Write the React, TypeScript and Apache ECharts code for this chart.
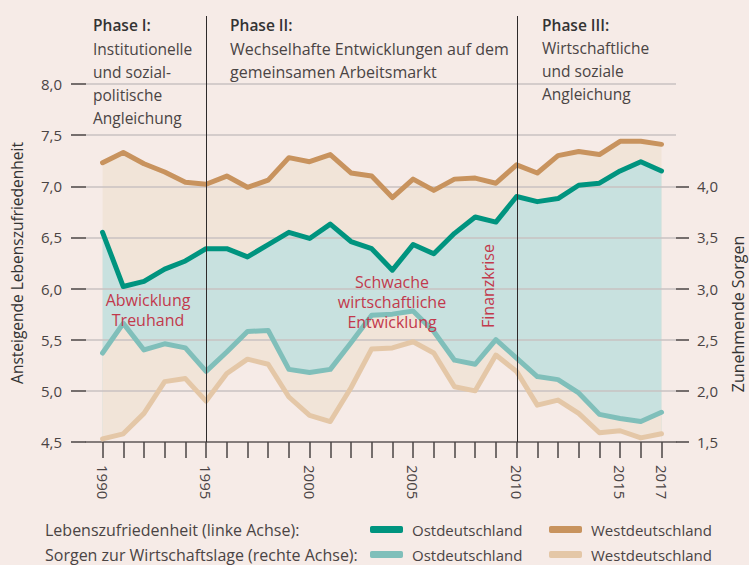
import React, { useEffect, useRef } from "react";
import * as echarts from "echarts";

const years = [1990, 1991, 1992, 1993, 1994, 1995, 1996, 1997, 1998, 1999, 2000, 2001, 2002, 2003, 2004, 2005, 2006, 2007, 2008, 2009, 2010, 2011, 2012, 2013, 2014, 2015, 2016, 2017];
const lzOst = [6.55, 6.02, 6.07, 6.19, 6.27, 6.39, 6.39, 6.31, 6.43, 6.55, 6.49, 6.63, 6.46, 6.39, 6.18, 6.43, 6.34, 6.54, 6.70, 6.65, 6.90, 6.85, 6.88, 7.01, 7.03, 7.15, 7.24, 7.15];
const lzWest = [7.23, 7.33, 7.22, 7.14, 7.04, 7.02, 7.10, 6.99, 7.06, 7.28, 7.24, 7.31, 7.13, 7.10, 6.89, 7.07, 6.96, 7.07, 7.08, 7.03, 7.21, 7.13, 7.30, 7.34, 7.31, 7.44, 7.44, 7.41];
const sorgenOst = [2.37, 2.66, 2.40, 2.46, 2.42, 2.19, 2.38, 2.58, 2.59, 2.21, 2.18, 2.21, 2.47, 2.74, 2.75, 2.78, 2.58, 2.30, 2.26, 2.50, 2.32, 2.14, 2.11, 1.98, 1.77, 1.73, 1.70, 1.79];
const sorgenWest = [1.53, 1.58, 1.78, 2.09, 2.12, 1.90, 2.17, 2.31, 2.26, 1.94, 1.76, 1.70, 2.03, 2.41, 2.42, 2.48, 2.37, 2.04, 2.00, 2.35, 2.19, 1.86, 1.91, 1.78, 1.59, 1.61, 1.54, 1.58];
const leftTicks = [4.5, 5.0, 5.5, 6.0, 6.5, 7.0, 7.5, 8.0];
const rightTicks = [1.5, 2.0, 2.5, 3.0, 3.5, 4.0];
const yearLabels = [1990, 1995, 2000, 2005, 2010, 2015, 2017];
const phaseYears = [1995, 2010];

const FONT = "'Open Sans', sans-serif";
const BG = "#f6ebe7";
const BEIGE = "#f1e4d8";
const TEALFILL = "#c8e1df";
const C_OST = "#00947f";
const C_WEST = "#c8935e";
const C_SOST = "#80bfba";
const C_SWEST = "#e4c7a7";
const RED = "#c2394c";
const TXT = "#4a4444";
const FS = 15;

const pairs = (vals: number[]) => years.map((y, i) => [y, vals[i]]);
const fmt = (v: number) => v.toFixed(1).replace(".", ",");

export default function App() {
  const ref = useRef<HTMLDivElement>(null);
  useEffect(() => {
    if (!ref.current) return;
    const chart = echarts.init(ref.current, undefined, { renderer: "svg" });
    const area = (name: string, vals: number[], color: string, yi: number, z: number) => ({
      name,
      type: "line",
      yAxisIndex: yi,
      data: pairs(vals),
      symbol: "none",
      silent: true,
      z,
      lineStyle: { width: 0 },
      areaStyle: { color, opacity: 1, origin: "start" },
    });
    const line = (name: string, vals: number[], color: string, yi: number) => ({
      name,
      type: "line",
      yAxisIndex: yi,
      data: pairs(vals),
      symbol: "none",
      z: 8,
      color,
      itemStyle: { color },
      lineStyle: { width: 5, color, cap: "round", join: "round" },
    });
    const legendItem = (name: string, label: string, left: number, top: number) => ({
      data: [name],
      left,
      top,
      icon: "roundRect",
      itemWidth: 33,
      itemHeight: 7,
      selectedMode: false,
      formatter: () => label,
      textStyle: { fontFamily: FONT, fontSize: FS, color: TXT, padding: [0, 0, 0, 4] },
    });
    chart.setOption({
      animation: false,
      backgroundColor: BG,
      grid: { left: 86, right: 73, top: 84, bottom: 123 },
      xAxis: {
        type: "value",
        min: 1989.2,
        max: 2017.7,
        z: 6,
        axisLine: { show: true, onZero: false, lineStyle: { color: "#6a6262", width: 1.5 } },
        axisTick: { show: true, customValues: years, length: 16, lineStyle: { color: "#4a4444", width: 1.5 } },
        axisLabel: {
          customValues: yearLabels,
          rotate: -90,
          margin: 23,
          fontFamily: FONT,
          fontSize: FS,
          color: TXT,
          formatter: (v: number) => String(v),
        },
        splitLine: { show: false },
      },
      yAxis: [
        {
          type: "value",
          min: 4.5,
          max: 8.0,
          interval: 0.5,
          z: 6,
          name: "Ansteigende Lebenszufriedenheit",
          nameLocation: "middle",
          nameGap: 61,
          nameRotate: 90,
          nameTextStyle: { fontFamily: FONT, fontSize: 15.5, color: "#333" },
          axisLine: { show: false },
          axisTick: { show: true, customValues: leftTicks, length: 15, lineStyle: { color: "#4a4444", width: 1.5 } },
          axisLabel: { customValues: leftTicks, margin: 24, fontFamily: FONT, fontSize: FS, color: TXT, formatter: fmt },
          splitLine: { show: true, lineStyle: { color: "#c9c2c2", width: 1.5 } },
        },
        {
          type: "value",
          min: 1.5,
          max: 5.0,
          interval: 0.5,
          z: 6,
          position: "right",
          axisLine: { show: false },
          axisTick: { show: true, customValues: rightTicks, length: 13, lineStyle: { color: "#4a4444", width: 1.5 } },
          axisLabel: { customValues: rightTicks, margin: 21, fontFamily: FONT, fontSize: FS, color: TXT, formatter: fmt },
          splitLine: { show: false },
        },
      ],
      legend: [
        legendItem("LZ Ost", "Ostdeutschland", 365, 517),
        legendItem("LZ West", "Westdeutschland", 544, 517),
        legendItem("Sorgen Ost", "Ostdeutschland", 365, 542),
        legendItem("Sorgen West", "Westdeutschland", 544, 542),
      ],
      series: [
        area("aLZWest", lzWest, BEIGE, 0, 1),
        area("aLZOst", lzOst, TEALFILL, 0, 2),
        area("aSOst", sorgenOst, BEIGE, 1, 3),
        area("aSWest", sorgenWest, BG, 1, 4),
        line("LZ West", lzWest, C_WEST, 0),
        line("LZ Ost", lzOst, C_OST, 0),
        line("Sorgen Ost", sorgenOst, C_SOST, 1),
        line("Sorgen West", sorgenWest, C_SWEST, 1),
      ],
    });

    const yBottom = chart.convertToPixel({ yAxisIndex: 0 }, 4.5) as number;
    const phaseLines = phaseYears.map((yr) => {
      const x = Math.round(chart.convertToPixel({ xAxisIndex: 0 }, yr) as number) + 0.5;
      return { type: "line", z: 20, silent: true, shape: { x1: x, y1: 16, x2: x, y2: yBottom }, style: { stroke: "#2e2a2a", lineWidth: 1 } };
    });
    const txt = (text: string, x: number, y: number, opts: any = {}) => ({
      type: "text",
      z: 20,
      silent: true,
      x,
      y,
      rotation: opts.rotation || 0,
      style: {
        text,
        fill: opts.fill || TXT,
        fontFamily: FONT,
        fontSize: opts.size || FS,
        fontWeight: opts.weight || "normal",
        align: opts.align || "left",
        verticalAlign: "middle",
        lineHeight: opts.lh || 23,
      },
    });
    chart.setOption({
      graphic: [
        ...phaseLines,
        txt("Phase I:", 93, 25, { fill: "#333", weight: 600, size: 15.5 }),
        txt("Institutionelle\nund sozial-\npolitische\nAngleichung", 93, 83, { size: 15.5 }),
        txt("Phase II:", 230, 25, { fill: "#333", weight: 600, size: 15.5 }),
        txt("Wechselhafte Entwicklungen auf dem\ngemeinsamen Arbeitsmarkt", 230, 60, { size: 16 }),
        txt("Phase III:", 542, 25, { fill: "#333", weight: 600, size: 15.5 }),
        txt("Wirtschaftliche\nund soziale\nAngleichung", 542, 71, { size: 15.5 }),
        txt("Abwicklung\nTreuhand", 148, 310, { fill: RED, align: "center", lh: 20, size: 16 }),
        txt("Schwache\nwirtschaftliche\nEntwicklung", 392, 302, { fill: RED, align: "center", lh: 20, size: 16 }),
        txt("Finanzkrise", 488, 286, { fill: RED, align: "center", rotation: Math.PI / 2, size: 16 }),
        txt("Zunehmende Sorgen", 738, 314, { fill: "#333", align: "center", rotation: Math.PI / 2, size: 16 }),
        txt("Lebenszufriedenheit (linke Achse):", 45, 530, { size: 16 }),
        txt("Sorgen zur Wirtschaftslage (rechte Achse):", 45, 555, { size: 16 }),
      ],
    });
    return () => chart.dispose();
  }, []);
  return (
    <div
      ref={ref}
      style={{ position: "fixed", left: 0, top: 0, width: 749, height: 565, background: BG }}
    />
  );
}
